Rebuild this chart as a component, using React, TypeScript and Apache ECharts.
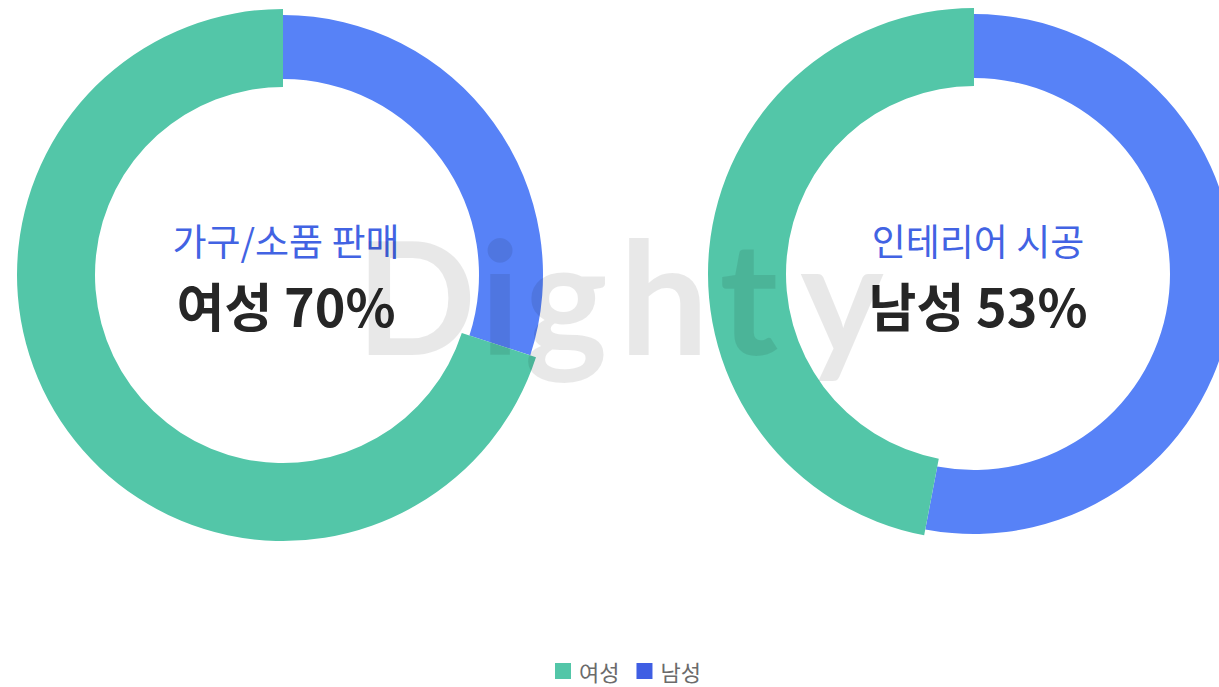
import React, { useEffect, useRef } from "react";
import * as echarts from "echarts";

const genders = ["여성", "남성"];
const categories = ["가구/소품 판매", "인테리어 시공"];
const femaleShare = [70, 47];
const maleShare = [30, 53];

const FEMALE_COLOR = "#53c6a8";
const MALE_COLOR = "#5782f7";
const LEGEND_COLORS = ["#53c6a8", "#3f5ee3"];
const CENTERS = [
  [283, 275],
  [974, 274],
];
const TEXT_X = [286, 978];
const FONT = "'Noto Sans CJK KR', 'Noto Sans', sans-serif";
const WATERMARK = "Dighty";
const WATERMARK_X = [416, 500, 566, 664, 749, 842];

export default function App() {
  const ref = useRef<HTMLDivElement>(null);
  useEffect(() => {
    if (!ref.current) return;
    const chart = echarts.init(ref.current, null, { renderer: "svg" });
    const series: any[] = [];
    const graphic: any[] = [];
    categories.forEach((cat, i) => {
      const f = femaleShare[i];
      const m = maleShare[i];
      const center = CENTERS[i];
      const base = {
        type: "pie",
        center,
        startAngle: 90,
        clockwise: false,
        silent: true,
        label: { show: false },
        labelLine: { show: false },
        emphasis: { disabled: true },
      };
      series.push({
        ...base,
        name: cat + "-m",
        radius: [196, 260],
        z: 2,
        data: [
          { name: genders[0], value: f, itemStyle: { color: "rgba(0,0,0,0)", borderWidth: 0 } },
          { name: genders[1], value: m, itemStyle: { color: MALE_COLOR, borderWidth: 0 } },
        ],
      });
      series.push({
        ...base,
        name: cat + "-f",
        radius: [188, 266],
        z: 3,
        data: [
          { name: genders[0], value: f, itemStyle: { color: FEMALE_COLOR, borderWidth: 0 } },
          { name: genders[1], value: m, itemStyle: { color: "rgba(0,0,0,0)", borderWidth: 0 } },
        ],
      });
      const topIdx = f >= m ? 0 : 1;
      const topVal = f >= m ? f : m;
      graphic.push({
        type: "text",
        x: TEXT_X[i],
        y: 240,
        z: 10,
        style: {
          text: cat,
          fill: "#4263e3",
          fontSize: 37,
          fontFamily: FONT,
          textAlign: "center",
          textVerticalAlign: "middle",
          align: "center",
          verticalAlign: "middle",
        },
      });
      graphic.push({
        type: "text",
        x: TEXT_X[i],
        y: 304,
        z: 10,
        style: {
          text: `${genders[topIdx]} ${topVal}%`,
          fill: "#262626",
          fontSize: 52,
          fontWeight: "bold",
          fontFamily: FONT,
          textAlign: "center",
          textVerticalAlign: "middle",
          align: "center",
          verticalAlign: "middle",
        },
      });
    });
    WATERMARK.split("").forEach((ch, k) => {
      graphic.push({
        type: "text",
        x: WATERMARK_X[k],
        y: 294,
        z: 100,
        silent: true,
        style: {
          text: ch,
          fill: "rgba(0,0,0,0.09)",
          fontSize: 158,
          fontWeight: "bold",
          fontFamily: "Lato, 'Open Sans', sans-serif",
          textAlign: "center",
          textVerticalAlign: "middle",
          align: "center",
          verticalAlign: "middle",
        },
      });
    });

    chart.setOption({
      animation: false,
      legend: {
        left: 550,
        top: 655,
        itemWidth: 16,
        itemHeight: 16,
        itemGap: 17,
        icon: "rect",
        selectedMode: false,
        textStyle: { fontSize: 22, color: "#6b6b6b", fontFamily: FONT, padding: [0, 0, 0, 3] },
        data: genders.map((g, i) => ({ name: g, itemStyle: { color: LEGEND_COLORS[i] } })),
      },
      series,
      graphic,
    });
    return () => chart.dispose();
  }, []);
  return (
    <div
      ref={ref}
      style={{ position: "fixed", left: 0, top: 0, width: 1219, height: 687, background: "#fff" }}
    />
  );
}
